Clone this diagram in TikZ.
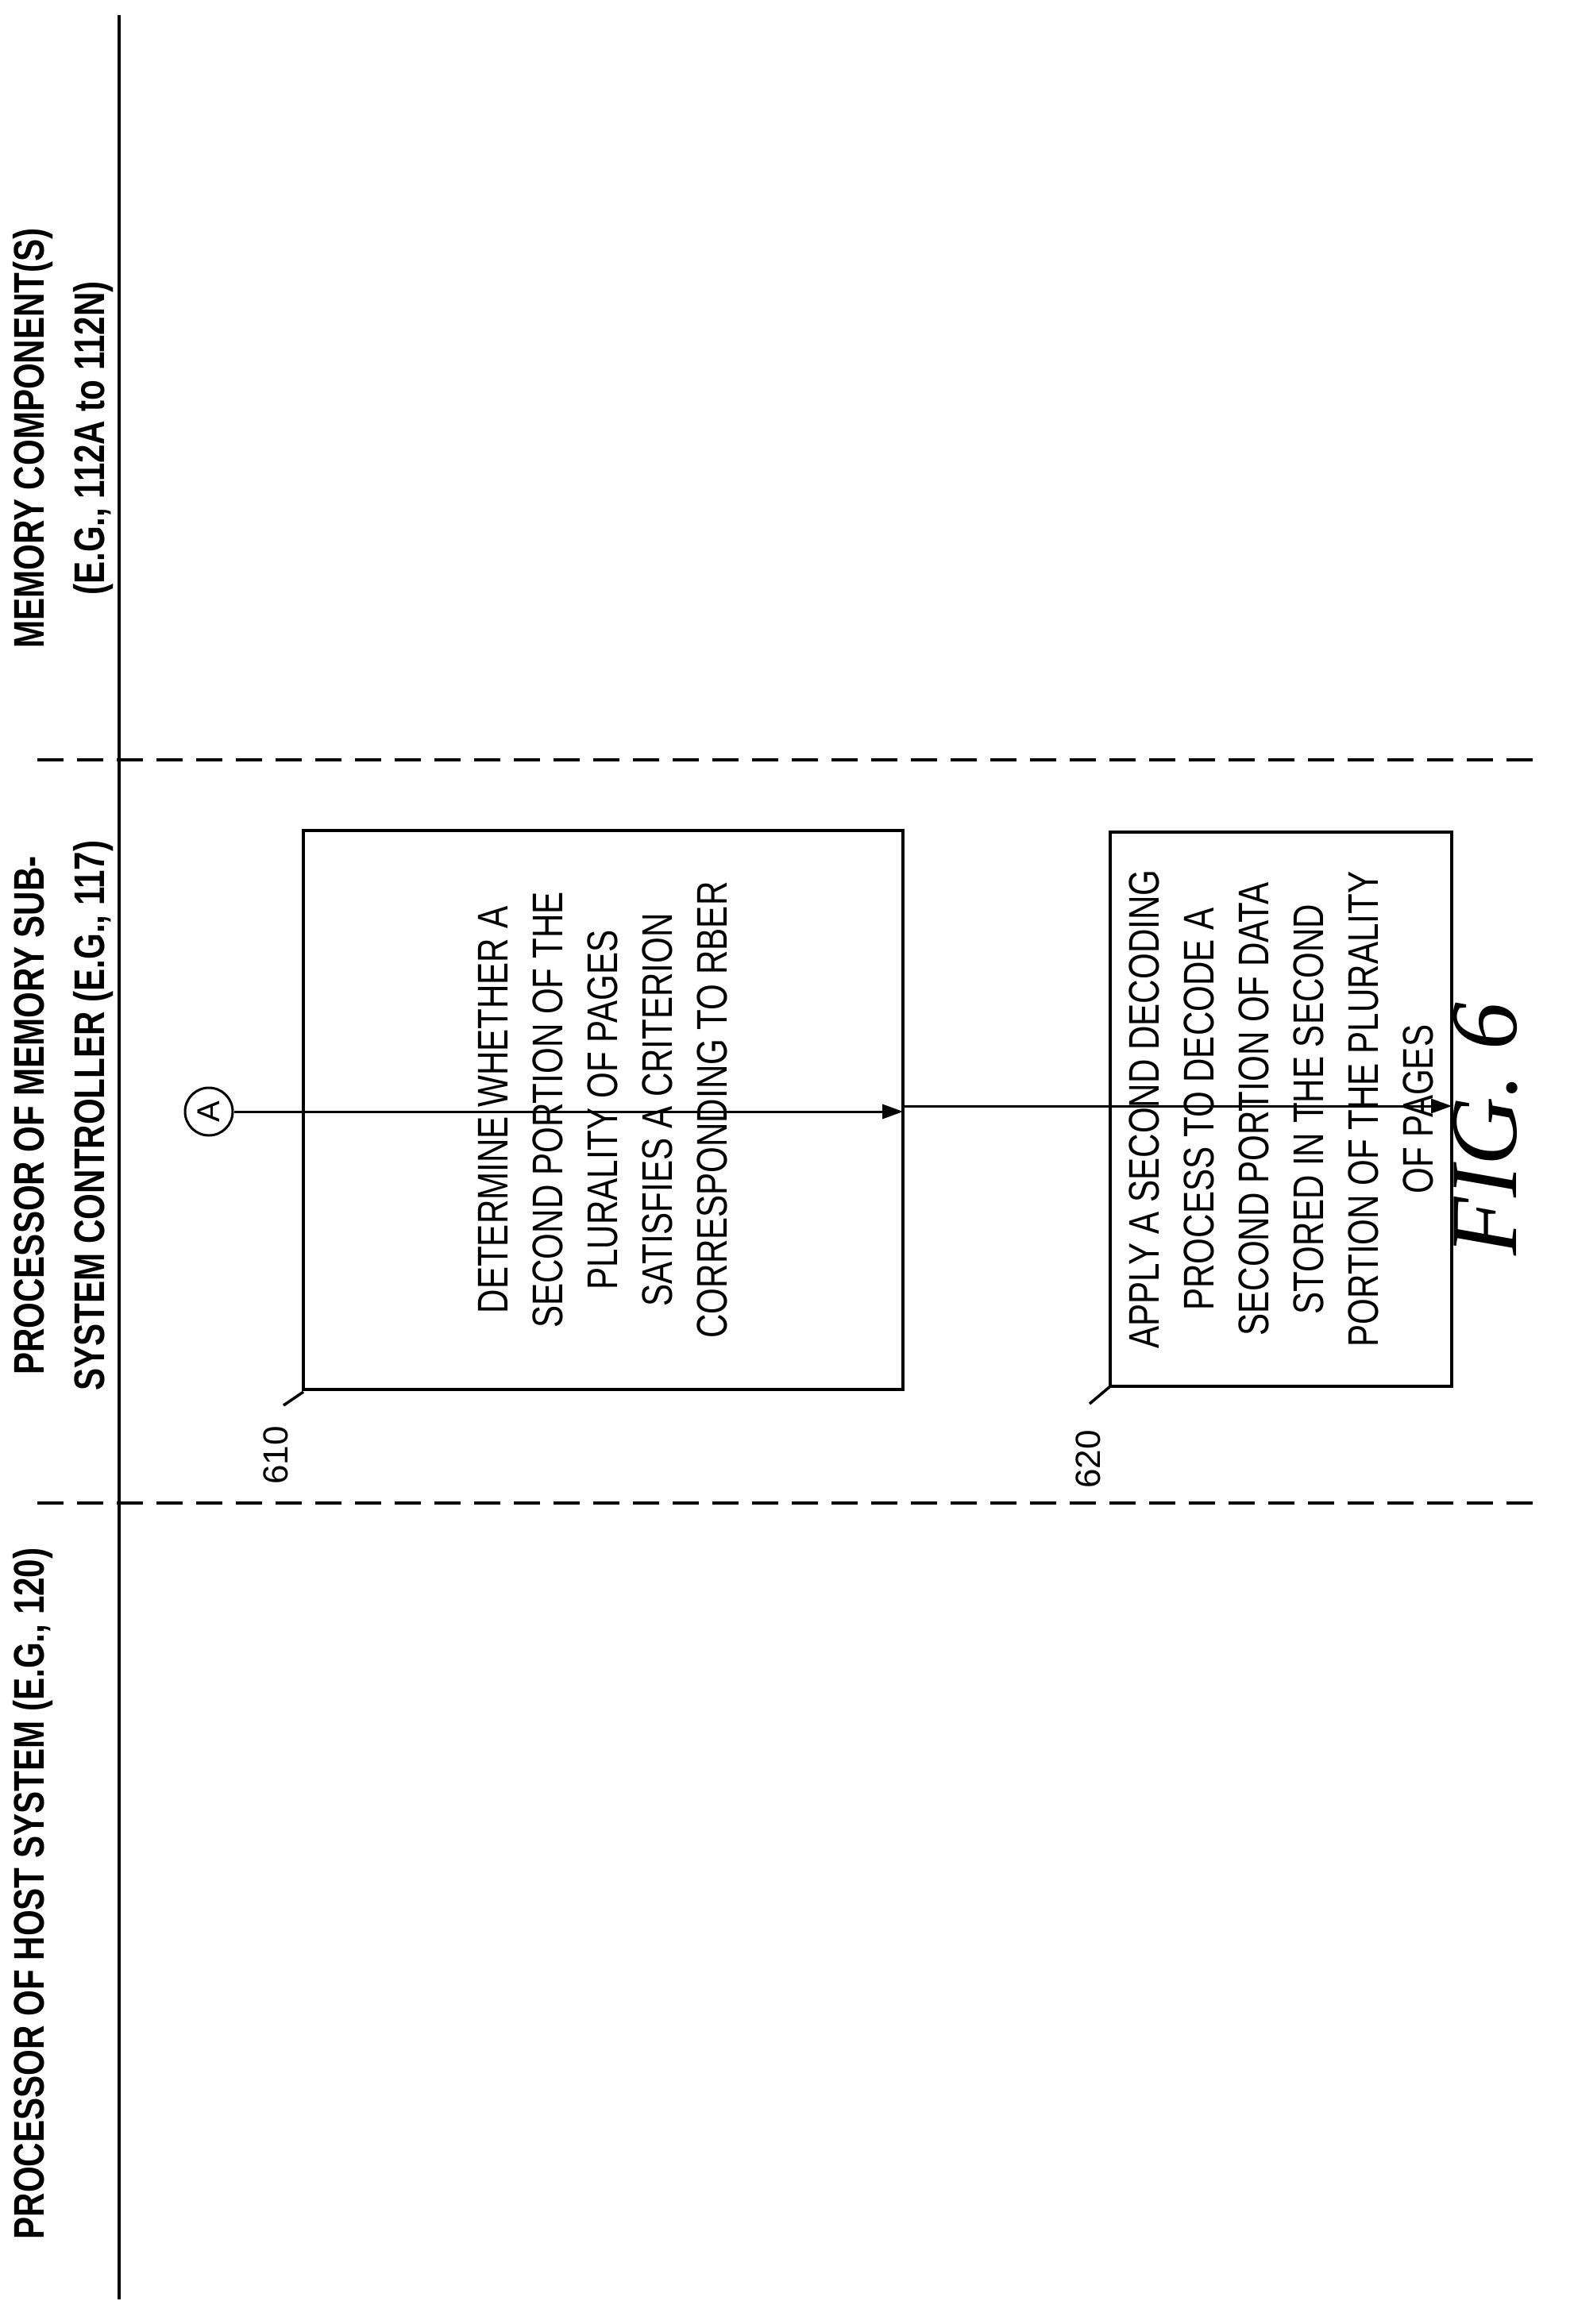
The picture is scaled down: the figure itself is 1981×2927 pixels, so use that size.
\documentclass[tikz,border=0pt]{standalone}
\usepackage{fontspec}
\setmainfont{Liberation Sans}
\newfontfamily\figfont{Liberation Serif}
\usetikzlibrary{arrows.meta}
\newcommand{\nar}[1]{\scalebox{0.78}[1]{#1}}
\begin{document}
\begin{tikzpicture}[x=1pt,y=-1pt,
  hdr/.style={rotate=90,font=\fontsize{54}{76}\selectfont\bfseries,align=center,inner sep=0},
  btxt/.style={rotate=90,font=\fontsize{54}{69}\selectfont,align=center,inner sep=0},
  dline/.style={line width=3.5pt,dash pattern=on 33pt off 17pt},
  arr/.style={line width=3pt,-{Triangle[length=26pt,width=18pt]}},
  lbl/.style={rotate=90,font=\fontsize{44}{44}\selectfont,inner sep=0}]
\useasboundingbox (0,0) rectangle (1981,2927);
\coordinate (st) at (150,19); \coordinate (sb) at (150,2896);
\draw[line width=4pt] (st) -- (sb);
\coordinate (d1a) at (47,957); \coordinate (d1b) at (1937,957);
\coordinate (d2a) at (47,1893); \coordinate (d2b) at (1937,1893);
\draw[dline] (d1a) -- (d1b);
\draw[dline] (d2a) -- (d2b);
\node[hdr] (h1) at (42,2385) {\nar{PROCESSOR OF HOST SYSTEM (E.G., 120)}};
\node[hdr] (h2) at (80,1405) {\nar{PROCESSOR OF MEMORY SUB-}\\\nar{SYSTEM CONTROLLER (E.G., 117)}};
\node[hdr] (h3) at (80,552) {\nar{MEMORY COMPONENT(S)}\\\nar{(E.G., 112A to 112N)}};
\draw[line width=4pt] (382,1046) rectangle (1137,1750);
\node (b1) at (759.5,1398) [minimum width=704pt,minimum height=755pt,rotate=90,inner sep=0] {};
\node[btxt] (t1) at (759.5,1398) {\nar{DETERMINE WHETHER A}\\\nar{SECOND PORTION OF THE}\\\nar{PLURALITY OF PAGES}\\\nar{SATISFIES A CRITERION}\\\nar{CORRESPONDING TO RBER}};
\draw[line width=4pt] (1398,1048) rectangle (1828,1746);
\node (b2) at (1613,1397) [minimum width=698pt,minimum height=430pt,rotate=90,inner sep=0] {};
\node[btxt] (t2) at (1613,1397) {\nar{APPLY A SECOND DECODING}\\\nar{PROCESS TO DECODE A}\\\nar{SECOND PORTION OF DATA}\\\nar{STORED IN THE SECOND}\\\nar{PORTION OF THE PLURALITY}\\\nar{OF PAGES}};
\node[draw,circle,line width=3pt,minimum size=60pt,inner sep=0,rotate=90,font=\fontsize{40}{40}\selectfont] (A) at (263,1400) {A};
\draw[arr] (A.south) -- (b1.south |- A);
\coordinate (m) at (1137,1393);
\draw[arr] (m) -- (b2.south |- m);
\node[lbl] (l1) at (347,1833) {610};
\node[lbl] (l2) at (1370,1838) {620};
\coordinate (c1) at (382,1753); \coordinate (c2) at (1398,1746);
\draw[line width=3.5pt] (c1) -- (357,1770);
\draw[line width=3.5pt] (c2) -- (1372,1768);
\node[rotate=90,font=\fontsize{120}{120}\selectfont\figfont\itshape,inner sep=0] (fig) at (1871,1422) {FIG. 6};
\end{tikzpicture}
\end{document}
